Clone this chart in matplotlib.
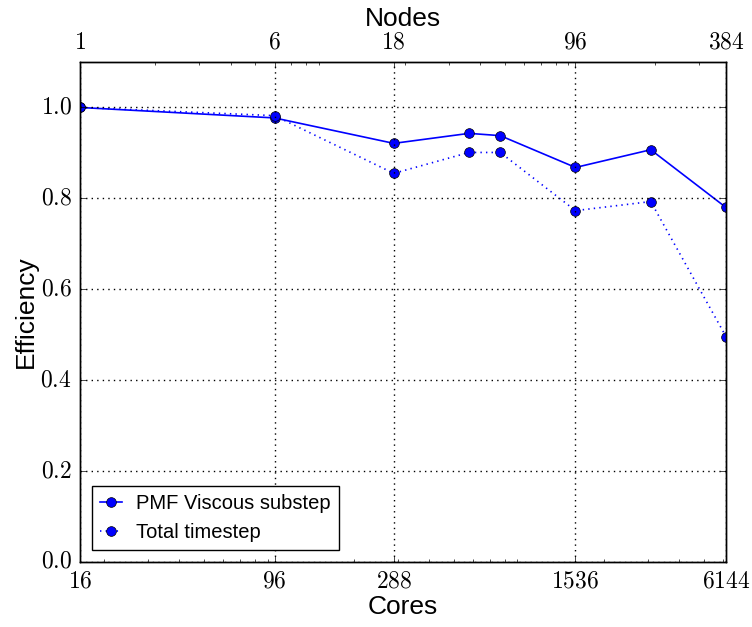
import matplotlib
matplotlib.use("Agg")
import matplotlib.pyplot as plt
from matplotlib.ticker import FixedLocator, FuncFormatter, LogLocator, NullFormatter

plt.style.use("classic")
plt.rcParams["mathtext.fontset"] = "cm"
plt.rcParams["font.family"] = ["Liberation Sans", "DejaVu Sans"]

# Strong-scaling efficiency data
cores = [16, 96, 288, 576, 768, 1536, 3072, 6144]
pmf_viscous = [1.0, 0.977, 0.921, 0.943, 0.938, 0.868, 0.907, 0.780]
total_step = [1.0, 0.982, 0.855, 0.901, 0.901, 0.773, 0.793, 0.496]

core_ticks = [16, 96, 288, 1536, 6144]
node_ticks = [1, 6, 18, 96, 384]
cores_per_node = 16

fig = plt.figure(figsize=(7.52, 6.27), dpi=100, facecolor="white")
ax = fig.add_axes([0.1064, 0.1037, 0.8590, 0.7974])

ax.plot(cores, pmf_viscous, "b-o", lw=1.2, ms=7, mec="black", label="PMF Viscous substep")
ax.plot(cores, total_step, "b:o", lw=1.2, ms=7, mec="black", label="Total timestep")

ax.set_xscale("log")
ax.set_xlim(core_ticks[0], core_ticks[-1])
ax.set_ylim(0, 1.1)
ax.xaxis.set_major_locator(FixedLocator(core_ticks))
ax.xaxis.set_minor_locator(LogLocator(base=10, subs=range(2, 10)))
ax.xaxis.set_minor_formatter(NullFormatter())
ax.xaxis.set_major_formatter(FuncFormatter(lambda v, p: r"$%d$" % round(v)))
ax.set_yticks([0.0, 0.2, 0.4, 0.6, 0.8, 1.0])
ax.yaxis.set_major_formatter(FuncFormatter(lambda v, p: r"$%.1f$" % v))
ax.tick_params(axis="x", which="both", top=False)
ax.tick_params(axis="both", which="major", labelsize=17, pad=6)
ax.grid(True, which="major", color="black", linestyle=":", linewidth=1.0)

ax.set_xlabel("Cores", fontsize=19, labelpad=2)
ax.set_ylabel("Efficiency", fontsize=19, labelpad=2)

top = ax.twiny()
top.set_xscale("log")
top.set_xlim(core_ticks[0] / cores_per_node, core_ticks[-1] / cores_per_node)
top.xaxis.set_major_locator(FixedLocator(node_ticks))
top.xaxis.set_minor_locator(LogLocator(base=10, subs=range(2, 10)))
top.xaxis.set_minor_formatter(NullFormatter())
top.xaxis.set_major_formatter(FuncFormatter(lambda v, p: r"$%d$" % round(v)))
top.tick_params(axis="x", which="both", bottom=False)
top.tick_params(axis="x", which="major", labelsize=17, pad=6)
top.set_xlabel("Nodes", fontsize=19, labelpad=4)

leg = ax.legend(loc="lower left", numpoints=1, fontsize=14.5, handlelength=1.1,
                handletextpad=0.7, fancybox=False, borderaxespad=0.6)

fig.savefig("out.png", dpi=100, facecolor="white")
